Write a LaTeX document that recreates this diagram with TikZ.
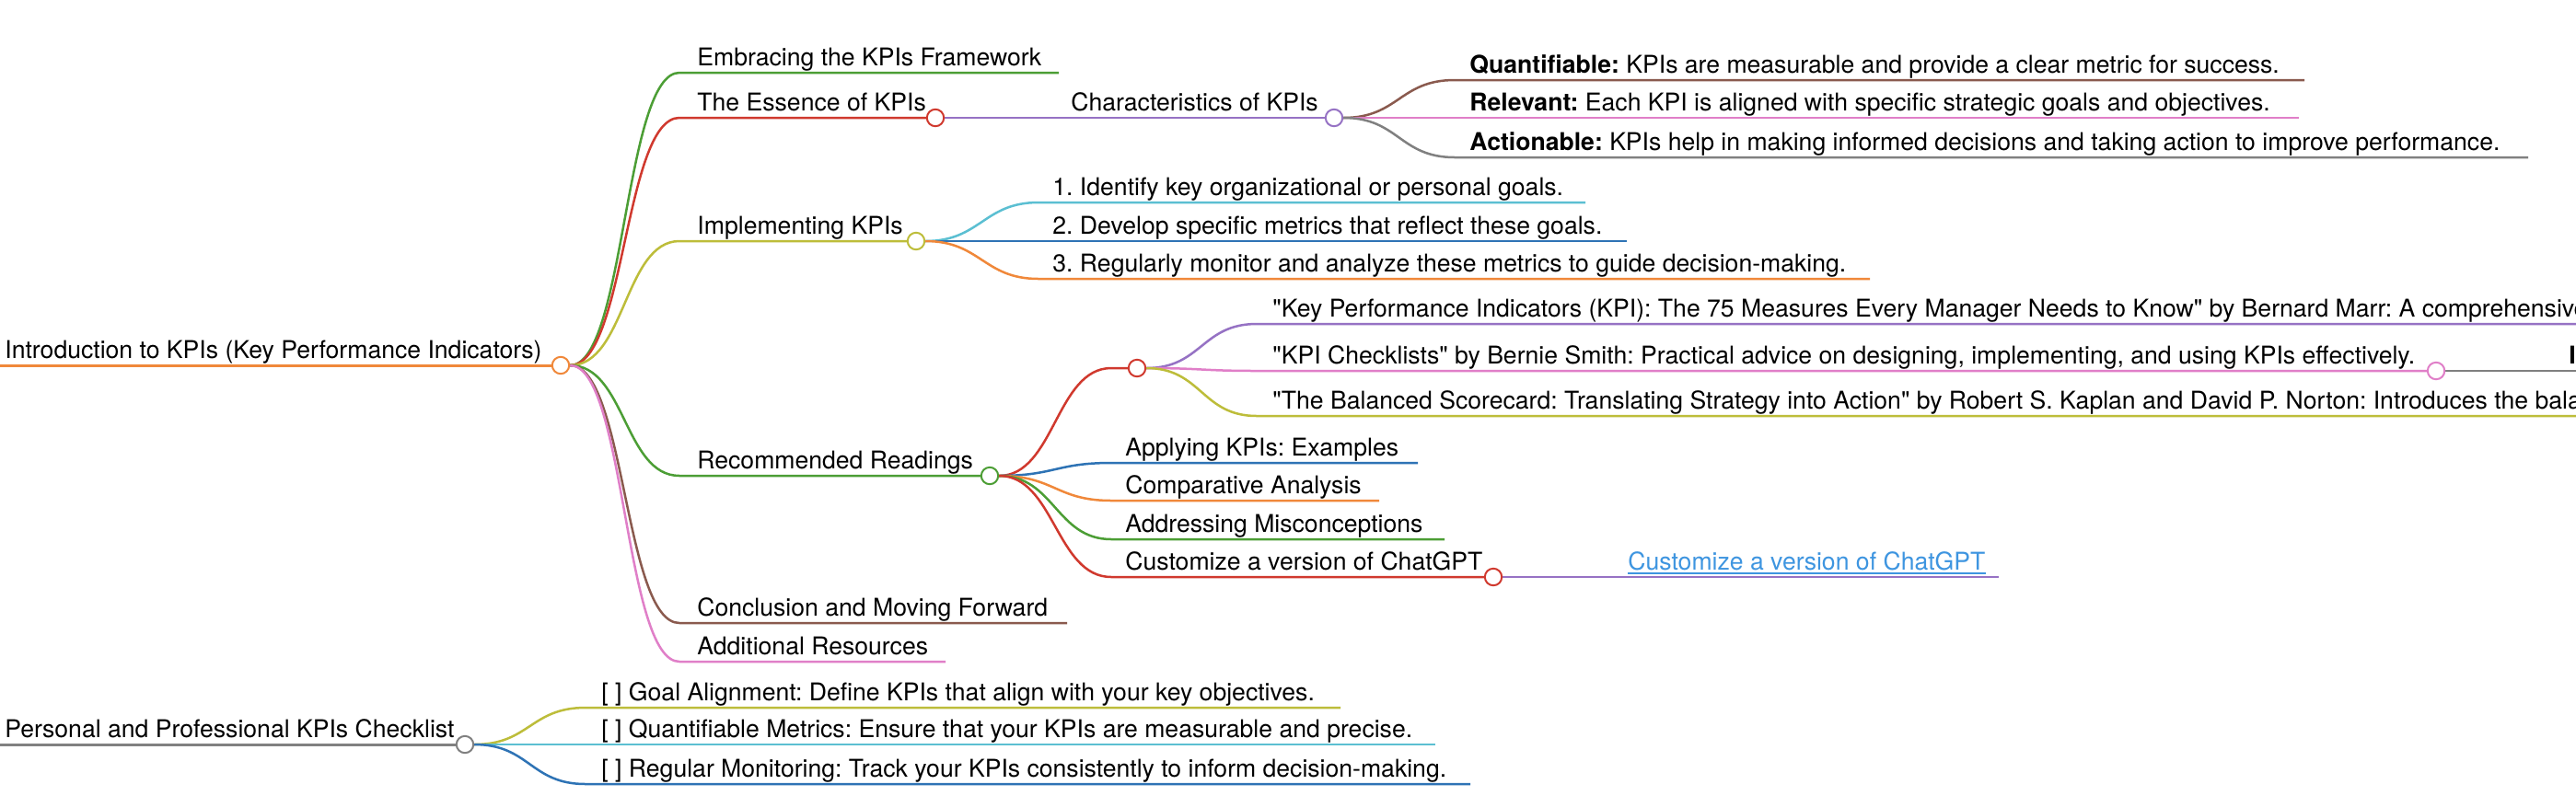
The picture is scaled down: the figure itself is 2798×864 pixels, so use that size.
\documentclass[tikz,border=0pt]{standalone}
\usepackage{fontspec}
\setmainfont{TeX Gyre Heros}
\frenchspacing
\definecolor{cOrange}{HTML}{F0883A}
\definecolor{cRed}{HTML}{D0392E}
\definecolor{cPurple}{HTML}{9672C4}
\definecolor{cGreen}{HTML}{4C9E35}
\definecolor{cOlive}{HTML}{BDBD3A}
\definecolor{cCyan}{HTML}{5BBFD2}
\definecolor{cBlue}{HTML}{2E73B5}
\definecolor{cBrown}{HTML}{8A5A4E}
\definecolor{cPink}{HTML}{E07FC8}
\definecolor{cGray}{HTML}{808080}
\definecolor{cLink}{HTML}{3E95E0}
\pgfdeclarelayer{bg}
\pgfsetlayers{bg,main}
\newcommand{\mmcurve}[4]{\draw[ln=#1] (#2.east) .. controls +(60,0) and +(-60,0) .. (#3) -- (#4);}
\newcommand{\qq}{\textquotedbl}
\begin{document}
\begin{tikzpicture}[x=0.5pt,y=-0.5pt,
  lbl/.style={anchor=base west, inner sep=0pt, font=\fontsize{13.3}{16}\selectfont, text=black},
  dot/.style={circle, draw=#1, fill=white, line width=1pt, minimum size=9.2pt, inner sep=0pt},
  ln/.style={draw=#1, line width=1.25pt},
  rootln/.style={draw=#1, line width=1.5pt}]
\useasboundingbox (0,0) rectangle (2798,864);

% ---- root 1
\coordinate (rootS) at (-20,397);
\node[lbl] (root) at (5,389) {Introduction to KPIs (Key Performance Indicators)};
\node[dot=cOrange] (rootc) at (609,397) {};

\coordinate (embS) at (738,79); \node[lbl] (emb) at (757,71) {Embracing the KPIs Framework}; \coordinate (embE) at (1150,79);
\coordinate (essS) at (738,128); \node[lbl] (ess) at (757,120) {The Essence of KPIs}; \node[dot=cRed] (essc) at (1016,128) {};
\coordinate (chS) at (1150,128); \node[lbl] (ch) at (1163,120) {Characteristics of KPIs}; \node[dot=cPurple] (chc) at (1449,128) {};
\coordinate (qS) at (1580,87); \node[lbl] (q) at (1596,79) {\textbf{Quantifiable:} KPIs are measurable and provide a clear metric for success.}; \coordinate (qE) at (2503,87);
\coordinate (rS) at (1580,128); \node[lbl] (r) at (1596,120) {\textbf{Relevant:} Each KPI is aligned with specific strategic goals and objectives.}; \coordinate (rE) at (2497,128);
\coordinate (aS) at (1580,171); \node[lbl] (a) at (1596,163) {\textbf{Actionable:} KPIs help in making informed decisions and taking action to improve performance.}; \coordinate (aE) at (2746,171);

\coordinate (impS) at (738,262); \node[lbl] (imp) at (757,254) {Implementing KPIs}; \node[dot=cOlive] (impc) at (995,262) {};
\coordinate (i1S) at (1128,220); \node[lbl] (i1) at (1143,212) {1. Identify key organizational or personal goals.}; \coordinate (i1E) at (1722,220);
\coordinate (i2S) at (1128,262); \node[lbl] (i2) at (1143,254) {2. Develop specific metrics that reflect these goals.}; \coordinate (i2E) at (1767,262);
\coordinate (i3S) at (1128,303); \node[lbl] (i3) at (1143,295) {3. Regularly monitor and analyze these metrics to guide decision-making.}; \coordinate (i3E) at (2031,303);

\coordinate (recS) at (738,517); \node[lbl] (rec) at (757,509) {Recommended Readings}; \node[dot=cGreen] (recc) at (1075,517) {};
\coordinate (eS) at (1207,400); \node[dot=cRed] (ec) at (1235,400) {};
\coordinate (b1S) at (1365,352); \node[lbl] (b1) at (1382,344) {\qq Key Performance Indicators (KPI): The 75 Measures Every Manager Needs to Know\qq{} by Bernard Marr: A comprehensive}; \coordinate (b1E) at (2820,352);
\coordinate (b2S) at (1365,403); \node[lbl] (b2) at (1382,395) {\qq KPI Checklists\qq{} by Bernie Smith: Practical advice on designing, implementing, and using KPIs effectively.}; \node[dot=cPink] (b2c) at (2646,403) {};
\coordinate (b2aS) at (2778,403); \node[lbl] (b2a) at (2790,395) {\textbf{I}}; \coordinate (b2aE) at (2820,403);
\coordinate (b3S) at (1365,452); \node[lbl] (b3) at (1382,444) {\qq The Balanced Scorecard: Translating Strategy into Action\qq{} by Robert S. Kaplan and David P. Norton: Introduces the balanced}; \coordinate (b3E) at (2820,452);
\coordinate (apS) at (1207,503); \node[lbl] (ap) at (1222,495) {Applying KPIs: Examples}; \coordinate (apE) at (1540,503);
\coordinate (coS) at (1207,544); \node[lbl] (co) at (1222,536) {Comparative Analysis}; \coordinate (coE) at (1498,544);
\coordinate (adS) at (1207,586); \node[lbl] (ad) at (1222,578) {Addressing Misconceptions}; \coordinate (adE) at (1569,586);
\coordinate (cuS) at (1207,627); \node[lbl] (cu) at (1222,619) {Customize a version of ChatGPT}; \node[dot=cRed] (cuc) at (1622,627) {};
\coordinate (lkS) at (1743,627); \node[lbl, text=cLink] (lk) at (1768,619) {Customize a version of ChatGPT}; \coordinate (lkE) at (2171,627);

\coordinate (conS) at (738,677); \node[lbl] (con) at (757,669) {Conclusion and Moving Forward}; \coordinate (conE) at (1159,677);
\coordinate (addS) at (738,719); \node[lbl] (add) at (757,711) {Additional Resources}; \coordinate (addE) at (1027,719);

% ---- root 2
\coordinate (r2S) at (-20,809);
\node[lbl] (r2) at (5,801) {Personal and Professional KPIs Checklist};
\node[dot=cGray] (r2c) at (505,809) {};
\coordinate (g1S) at (636,769); \node[lbl] (g1) at (653,761) {[ ] Goal Alignment: Define KPIs that align with your key objectives.}; \coordinate (g1E) at (1456,769);
\coordinate (g2S) at (636,809); \node[lbl] (g2) at (653,801) {[ ] Quantifiable Metrics: Ensure that your KPIs are measurable and precise.}; \coordinate (g2E) at (1559,809);
\coordinate (g3S) at (636,852); \node[lbl] (g3) at (653,844) {[ ] Regular Monitoring: Track your KPIs consistently to inform decision-making.}; \coordinate (g3E) at (1597,852);

\begin{pgfonlayer}{bg}
\fill[white] (0,0) rectangle (2798,864);
\draw[rootln=cOrange] (rootS) -- (rootc);
\mmcurve{cGreen}{rootc}{embS}{embE}
\mmcurve{cRed}{rootc}{essS}{essc}
\mmcurve{cOlive}{rootc}{impS}{impc}
\mmcurve{cGreen}{rootc}{recS}{recc}
\mmcurve{cBrown}{rootc}{conS}{conE}
\mmcurve{cPink}{rootc}{addS}{addE}
\mmcurve{cPurple}{essc}{chS}{chc}
\mmcurve{cBrown}{chc}{qS}{qE}
\mmcurve{cPink}{chc}{rS}{rE}
\mmcurve{cGray}{chc}{aS}{aE}
\mmcurve{cCyan}{impc}{i1S}{i1E}
\mmcurve{cBlue}{impc}{i2S}{i2E}
\mmcurve{cOrange}{impc}{i3S}{i3E}
\mmcurve{cRed}{recc}{eS}{ec}
\mmcurve{cPurple}{ec}{b1S}{b1E}
\mmcurve{cPink}{ec}{b2S}{b2c}
\mmcurve{cGray}{b2c}{b2aS}{b2aE}
\mmcurve{cOlive}{ec}{b3S}{b3E}
\mmcurve{cBlue}{recc}{apS}{apE}
\mmcurve{cOrange}{recc}{coS}{coE}
\mmcurve{cGreen}{recc}{adS}{adE}
\mmcurve{cRed}{recc}{cuS}{cuc}
\mmcurve{cPurple}{cuc}{lkS}{lkE}
\draw[cLink, line width=0.9pt] ([yshift=-2pt]lk.base west) -- ([yshift=-2pt]lk.base east);
\draw[rootln=cGray] (r2S) -- (r2c);
\mmcurve{cOlive}{r2c}{g1S}{g1E}
\mmcurve{cCyan}{r2c}{g2S}{g2E}
\mmcurve{cBlue}{r2c}{g3S}{g3E}
\end{pgfonlayer}
\end{tikzpicture}
\end{document}
